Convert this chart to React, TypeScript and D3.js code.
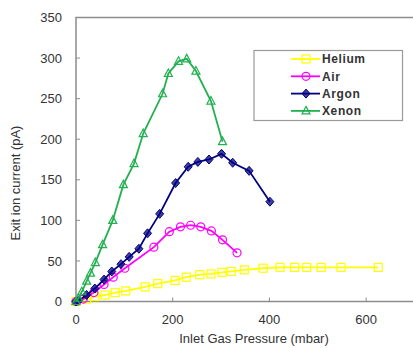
import React, { useEffect, useRef } from "react";
import * as d3 from "d3";

// pressure (mbar) / exit ion current (pA) per gas
const heliumP = [0, 22, 39, 60, 81, 103, 143, 169, 205, 228, 256, 279, 302, 321, 348, 387, 422, 452, 477, 507, 548, 625];
const heliumI = [0, 3, 6, 8, 11, 13, 18, 22, 26, 30, 33, 34, 36, 37, 39, 41, 42, 42, 42, 42, 42, 42];

const airP = [0, 15, 37, 58, 77, 101, 161, 193, 216, 237, 258, 280, 303, 333];
const airI = [0, 3, 11, 21, 30, 41, 67, 86, 92, 94, 92, 87, 76, 60];

const argonP = [0, 5, 22, 39, 58, 74, 93, 110, 130, 148, 173, 206, 232, 252, 275, 301, 324, 358, 401];
const argonI = [0, 1, 8, 16, 27, 37, 46, 55, 65, 84, 108, 146, 166, 172, 175, 182, 171, 161, 123];

const xenonP = [0, 5, 12, 22, 30, 40, 55, 76, 98, 120, 139, 179, 191, 212, 229, 248, 279, 303];
const xenonI = [0, 4, 12, 25, 35, 48, 70, 100, 144, 170, 207, 256, 281, 296, 299, 284, 247, 197];

const xTicks = [0, 200, 400, 600];
const yTicks = [0, 50, 100, 150, 200, 250, 300, 350];

const series = [
  { name: "Helium", p: heliumP, v: heliumI, color: "#ffff00", marker: "square" },
  { name: "Air", p: airP, v: airI, color: "#ff00ff", marker: "circle" },
  { name: "Argon", p: argonP, v: argonI, color: "#000080", marker: "diamond" },
  { name: "Xenon", p: xenonP, v: xenonI, color: "#22b050", marker: "triangle" },
];

const W = 413;
const H = 348;
const margin = { left: 76, top: 17.5, right: -1.5, bottom: 46.5 };

const App = () => {
  const ref = useRef<SVGSVGElement>(null);

  useEffect(() => {
    document.body.style.margin = "0";
    const svg = d3.select(ref.current);
    svg.selectAll("*").remove();

    const width = W - margin.left - margin.right;
    const height = H - margin.top - margin.bottom;

    const x = d3.scaleLinear().domain([0, 700]).range([0, width]);
    const y = d3.scaleLinear().domain([0, 350]).range([height, 0]);

    const g = svg.append("g").attr("transform", `translate(${margin.left},${margin.top})`);
    const font = "'Liberation Sans', Arial, sans-serif";
    const axisColor = "#8c8c8c";

    // plot frame
    g.append("rect")
      .attr("x", 0)
      .attr("y", 0)
      .attr("width", width)
      .attr("height", height)
      .attr("fill", "none")
      .attr("stroke", axisColor)
      .attr("stroke-width", 1.5);

    // y ticks
    yTicks.forEach(t => {
      g.append("line")
        .attr("x1", 0)
        .attr("x2", 4)
        .attr("y1", y(t))
        .attr("y2", y(t))
        .attr("stroke", axisColor);
      g.append("text")
        .attr("x", -14)
        .attr("y", y(t))
        .attr("dy", "0.36em")
        .attr("text-anchor", "end")
        .attr("font-family", font)
        .attr("font-size", 13)
        .attr("fill", "#333")
        .text(t);
    });

    // x ticks
    xTicks.forEach(t => {
      g.append("line")
        .attr("x1", x(t))
        .attr("x2", x(t))
        .attr("y1", height)
        .attr("y2", height - 4)
        .attr("stroke", axisColor);
      g.append("text")
        .attr("x", x(t))
        .attr("y", height + 22)
        .attr("text-anchor", "middle")
        .attr("font-family", font)
        .attr("font-size", 13)
        .attr("fill", "#333")
        .text(t);
    });

    svg.append("text")
      .attr("x", 254)
      .attr("y", 343)
      .attr("text-anchor", "middle")
      .attr("font-family", font)
      .attr("font-size", 13)
      .attr("fill", "#333")
      .text("Inlet Gas Pressure (mbar)");

    svg.append("text")
      .attr("transform", "translate(20,183) rotate(-90)")
      .attr("text-anchor", "middle")
      .attr("font-family", font)
      .attr("font-size", 13)
      .attr("fill", "#333")
      .text("Exit ion current (pA)");

    const drawMarker = (sel, kind, color, cx, cy) => {
      if (kind === "square") {
        sel.append("rect")
          .attr("x", cx - 4)
          .attr("y", cy - 4)
          .attr("width", 8)
          .attr("height", 8)
          .attr("fill", "none")
          .attr("stroke", color)
          .attr("stroke-width", 1.2);
      } else if (kind === "circle") {
        sel.append("circle")
          .attr("cx", cx)
          .attr("cy", cy)
          .attr("r", 4)
          .attr("fill", "none")
          .attr("stroke", color)
          .attr("stroke-width", 1.2);
      } else if (kind === "diamond") {
        sel.append("path")
          .attr("d", `M${cx},${cy - 4.5}L${cx + 4},${cy}L${cx},${cy + 4.5}L${cx - 4},${cy}Z`)
          .attr("fill", color)
          .attr("fill-opacity", 0.75)
          .attr("stroke", color)
          .attr("stroke-width", 1);
      } else {
        sel.append("path")
          .attr("d", `M${cx},${cy - 4.5}L${cx + 4},${cy + 3}L${cx - 4},${cy + 3}Z`)
          .attr("fill", "none")
          .attr("stroke", color)
          .attr("stroke-width", 1.2);
      }
    };

    const line = d3.line<number>();

    series.forEach(s => {
      const pts = s.p.map((p, i) => [x(p), y(s.v[i])] as [number, number]);
      g.append("path")
        .attr("d", line(pts))
        .attr("fill", "none")
        .attr("stroke", s.color)
        .attr("stroke-width", 1.8);
      const mg = g.append("g");
      pts.forEach(([cx, cy]) => drawMarker(mg, s.marker, s.color, cx, cy));
    });

    // legend
    const lg = svg.append("g");
    lg.append("rect")
      .attr("x", 254)
      .attr("y", 50.5)
      .attr("width", 148.5)
      .attr("height", 70)
      .attr("fill", "#fff")
      .attr("stroke", "#999")
      .attr("stroke-width", 1.2);
    series.forEach((s, i) => {
      const ly = 59 + i * 17.3;
      lg.append("line")
        .attr("x1", 291)
        .attr("x2", 320)
        .attr("y1", ly)
        .attr("y2", ly)
        .attr("stroke", s.color)
        .attr("stroke-width", 1.8);
      drawMarker(lg, s.marker, s.color, 306, ly);
      lg.append("text")
        .attr("x", 322)
        .attr("y", ly)
        .attr("dy", "0.36em")
        .attr("font-family", font)
        .attr("font-size", 12)
        .attr("font-weight", "bold")
        .attr("letter-spacing", 0.6)
        .attr("fill", "#333")
        .text(s.name);
    });
  }, []);

  return <svg ref={ref} width={W} height={H} style={{ display: "block" }} />;
};

export default App;
